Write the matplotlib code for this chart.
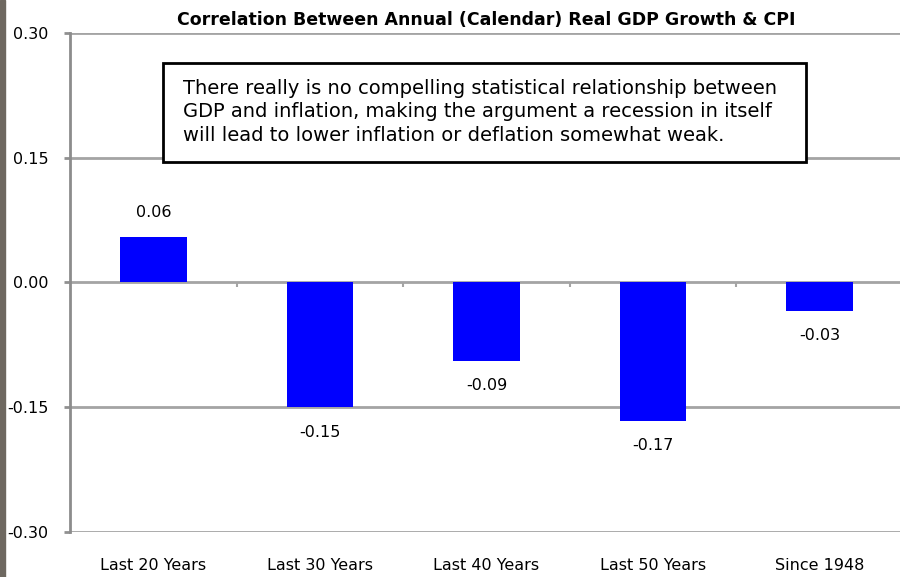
import matplotlib.pyplot as plt
import numpy as np

categories = ["Last 20 Years", "Last 30 Years", "Last 40 Years",
              "Last 50 Years", "Since 1948"]
correlation = [0.055, -0.15, -0.094, -0.166, -0.034]
bar_labels = ["0.06", "-0.15", "-0.09", "-0.17", "-0.03"]
yticks = [0.30, 0.15, 0.00, -0.15, -0.30]

title = "Correlation Between Annual (Calendar) Real GDP Growth & CPI"
note = ("There really is no compelling statistical relationship between\n"
        "GDP and inflation, making the argument a recession in itself\n"
        "will lead to lower inflation or deflation somewhat weak.")

plt.rcParams["font.family"] = ["DejaVu Sans"]

fig = plt.figure(figsize=(9, 5.77), dpi=100)
ax = fig.add_axes([0.078, 0.078, 0.925, 0.865])

x = np.arange(len(categories))
ax.bar(x, correlation, width=0.4, color="#0000ff", zorder=3)

for xi, val, lab in zip(x, correlation, bar_labels):
    off = 0.02 if val >= 0 else -0.021
    ax.text(xi, val + off, lab, ha="center",
            va="bottom" if val >= 0 else "top", fontsize=11.5)

ax.set_xlim(-0.5, len(categories) - 0.5)
ax.set_ylim(-0.30, 0.30)
ax.set_yticks(yticks)
ax.set_yticklabels([f"{t:.2f}" for t in yticks], fontsize=11.5)
ax.set_xticks(x)
ax.set_xticklabels(categories, fontsize=11.5)
ax.tick_params(axis="x", length=0, pad=19)
ax.tick_params(axis="y", length=4.5, width=2, color="#909090",
               direction="out", pad=11)

for t in yticks:
    ax.axhline(t, color="#a4a4a4", lw=2, zorder=1)
# tick stubs on the zero line between categories
ax.vlines(x[:-1] + 0.5, -0.006, 0, color="#a4a4a4", lw=1.5, zorder=1)

for s in ["top", "right", "bottom"]:
    ax.spines[s].set_visible(False)
ax.spines["left"].set_color("#8c8c8c")
ax.spines["left"].set_linewidth(2)

ax.set_title(title, fontsize=12.5, fontweight="bold", pad=6)

# annotation box
ax.add_patch(plt.Rectangle((0.06, 0.145), 3.86, 0.119, fc="white",
                           ec="black", lw=2, zorder=5))
ax.text(0.18, 0.205, note, fontsize=14, va="center", ha="left",
        linespacing=1.3, zorder=6)

# dark strip at the left edge
fig.patches.append(plt.Rectangle((0, 0), 0.005, 1, transform=fig.transFigure,
                                 color="#6e6860", zorder=10))

fig.savefig("out.png", dpi=100)
